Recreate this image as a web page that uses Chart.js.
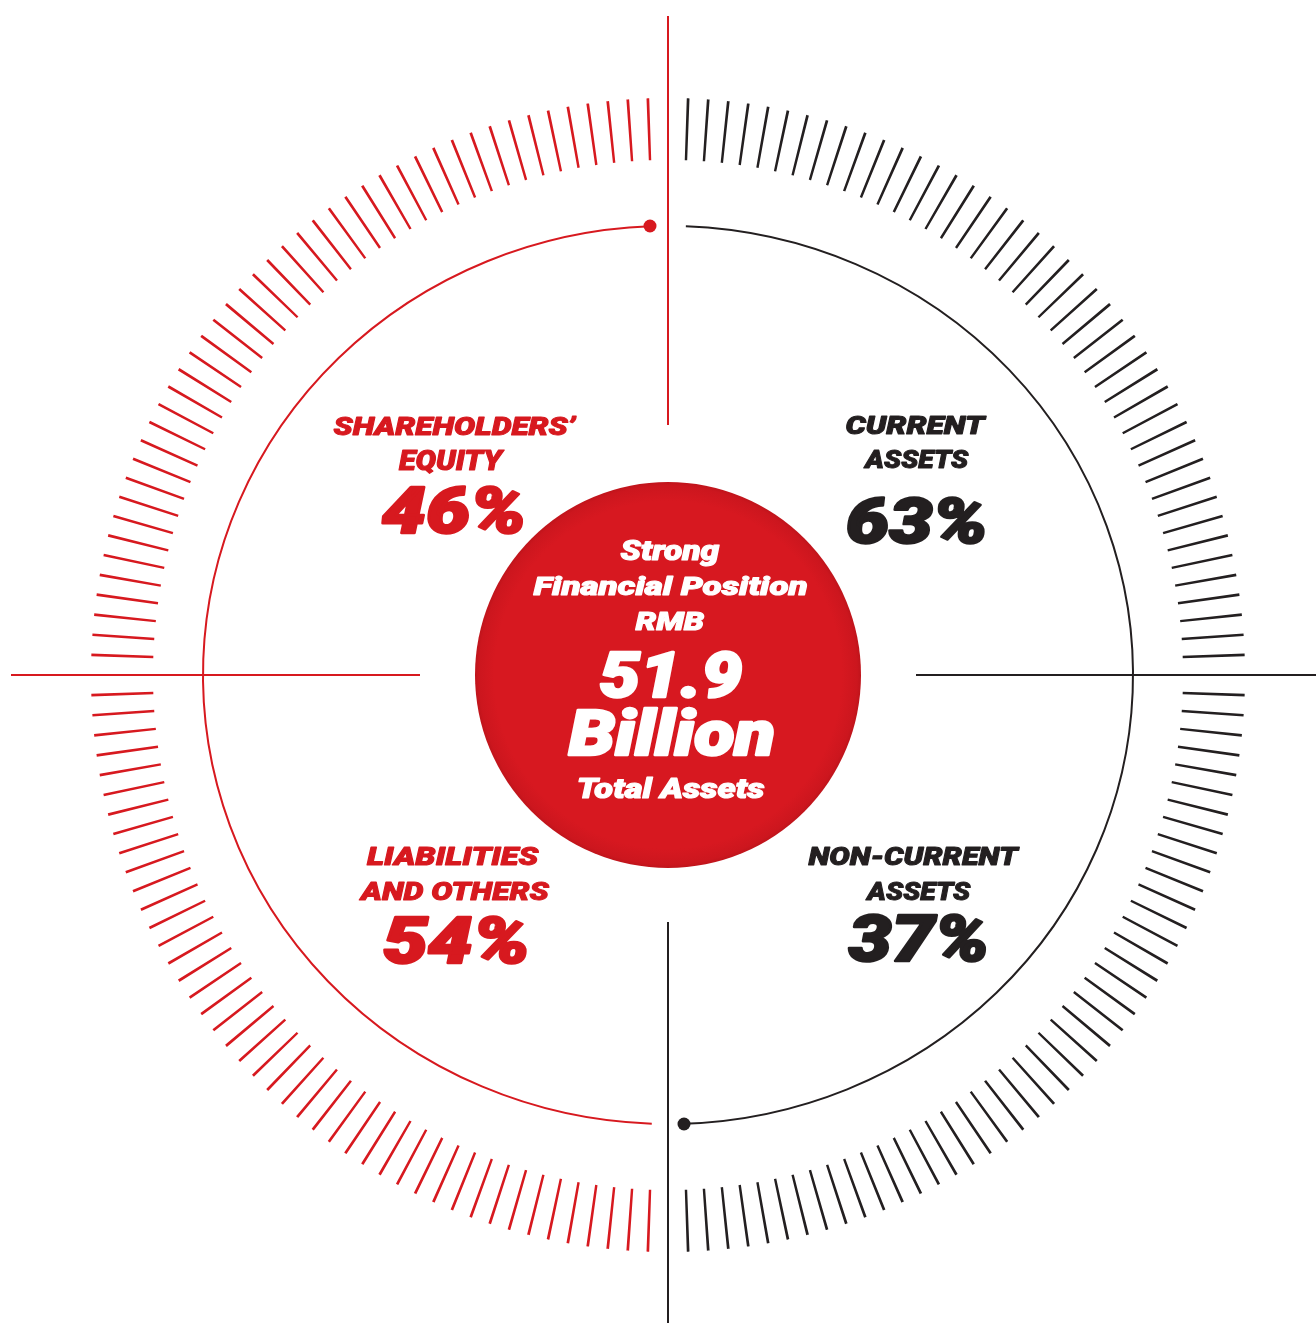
<!DOCTYPE html>
<html>
<head>
<meta charset="utf-8">
<script src="https://cdn.jsdelivr.net/npm/chart.js@4"></script>
<style>
  html,body{margin:0;padding:0;background:#ffffff;}
  #wrap{width:1316px;height:1323px;position:relative;}
  canvas{display:block;}
</style>
</head>
<body>
<div id="wrap"><canvas id="c" width="1316" height="1323"></canvas></div>
<script>
// ---------------- DATA ----------------
const assetLabels   = [["CURRENT", "ASSETS"], ["NON-CURRENT", "ASSETS"]];
const assetShares   = [63, 37];
const fundingLabels = [["SHAREHOLDERS’", "EQUITY"], ["LIABILITIES", "AND OTHERS"]];
const fundingShares = [46, 54];
const centerHeading = ["Strong", "Financial Position", "RMB"];
const totalValue    = "51.9";
const totalUnit     = "Billion";
const totalCaption  = "Total Assets";
// dial scale: one tick every 2 degrees, none on the four cross-hair axes
const tickStepDeg   = 2;
const tickWidthDeg  = 0.27;

// ---------------- STYLE ----------------
const RED = "#d7191f";
const BLACK = "#231f20";
const FONT = "Roboto";

// build the dial ring (tick / gap pairs) for the doughnut
const dialValues = [];
const dialColors = [];
for (let a = 0; a < 360; a += tickStepDeg) {
  dialValues.push(tickWidthDeg, tickStepDeg - tickWidthDeg);
  let col = "rgba(0,0,0,0)";
  if (a % 90 !== 0) col = a < 180 ? BLACK : RED;
  dialColors.push(col, "rgba(0,0,0,0)");
}

function drawText(ctx, text, cx, midY, cap, targetW, color) {
  const fs = cap / 0.711;
  const lw = cap * 0.055;
  ctx.save();
  ctx.font = "italic 900 " + fs + "px " + FONT;
  ctx.fillStyle = color;
  ctx.strokeStyle = color;
  ctx.lineJoin = "round";
  ctx.textAlign = "left";
  ctx.textBaseline = "alphabetic";
  const m = ctx.measureText(text);
  const ink = m.actualBoundingBoxLeft + m.actualBoundingBoxRight;
  const sx = (targetW - lw) / ink;
  ctx.translate(cx, midY + cap / 2 - lw / 2 * 0);
  ctx.scale(sx, 1);
  ctx.lineWidth = lw;
  const x0 = (m.actualBoundingBoxLeft - m.actualBoundingBoxRight) / 2;
  ctx.fillText(text, x0, 0);
  ctx.strokeText(text, x0, 0);
  ctx.restore();
}

const decor = {
  id: "decor",
  beforeDatasetsDraw(chart) {
    const ctx = chart.ctx;
    const meta = chart.getDatasetMeta(0);
    const cx = meta.data[0].x, cy = meta.data[0].y;
    ctx.save();
    ctx.lineCap = "butt";
    // cross-hair lines
    ctx.lineWidth = 2;
    ctx.strokeStyle = RED;
    ctx.beginPath(); ctx.moveTo(cx, 16); ctx.lineTo(cx, 425); ctx.stroke();
    ctx.beginPath(); ctx.moveTo(11, cy); ctx.lineTo(420, cy); ctx.stroke();
    ctx.strokeStyle = BLACK;
    ctx.beginPath(); ctx.moveTo(cx, 922); ctx.lineTo(cx, 1323); ctx.stroke();
    ctx.beginPath(); ctx.moveTo(916, cy); ctx.lineTo(1316, cy); ctx.stroke();
    // thin elliptical ring
    const ra = 465, rb = 449;
    const d2r = Math.PI / 180;
    ctx.lineWidth = 2;
    ctx.strokeStyle = BLACK;
    ctx.beginPath(); ctx.ellipse(cx, cy, ra, rb, 0, (2.2 - 90) * d2r, (178 - 90) * d2r); ctx.stroke();
    ctx.strokeStyle = RED;
    ctx.beginPath(); ctx.ellipse(cx, cy, ra, rb, 0, (182 - 90) * d2r, (357.8 - 90) * d2r); ctx.stroke();
    // end dots
    ctx.fillStyle = RED;
    ctx.beginPath(); ctx.arc(650, cy - rb, 6.5, 0, Math.PI * 2); ctx.fill();
    ctx.fillStyle = BLACK;
    ctx.beginPath(); ctx.arc(684, cy + rb, 6.5, 0, Math.PI * 2); ctx.fill();
    // centre disc
    const R = 193;
    const g = ctx.createRadialGradient(cx, cy, 0, cx, cy, R);
    g.addColorStop(0, "#d71820");
    g.addColorStop(0.9, "#d71820");
    g.addColorStop(0.98, "#cc161e");
    g.addColorStop(1, "#bf141b");
    ctx.fillStyle = g;
    ctx.beginPath(); ctx.arc(cx, cy, R, 0, Math.PI * 2); ctx.fill();
    ctx.restore();

    // labels
    drawText(ctx, fundingLabels[0][0], 455, 426, 18, 244, RED);
    drawText(ctx, fundingLabels[0][1], 452, 460, 19, 107, RED);
    drawText(ctx, fundingShares[0] + "%", 452, 510, 46, 143, RED);

    drawText(ctx, assetLabels[0][0], 916, 425, 18, 142, BLACK);
    drawText(ctx, assetLabels[0][1], 916, 459, 18, 107, BLACK);
    drawText(ctx, assetShares[0] + "%", 916, 520, 45, 138, BLACK);

    drawText(ctx, fundingLabels[1][0], 453, 856, 18, 173, RED);
    drawText(ctx, fundingLabels[1][1], 454, 891, 18, 192, RED);
    drawText(ctx, fundingShares[1] + "%", 455, 940, 46, 144, RED);

    drawText(ctx, assetLabels[1][0], 914, 856, 18, 212, BLACK);
    drawText(ctx, assetLabels[1][1], 918, 891, 18, 107, BLACK);
    drawText(ctx, assetShares[1] + "%", 917, 938, 46, 139, BLACK);

    // centre text
    const W = "#ffffff";
    drawText(ctx, centerHeading[0], 670, 550, 19, 100, W);
    drawText(ctx, centerHeading[1], 670, 586, 18, 274, W);
    drawText(ctx, centerHeading[2], 670, 621, 18, 70, W);
    drawText(ctx, totalValue, 671, 675, 44, 143, W);
    drawText(ctx, totalUnit, 671, 732, 45, 207, W);
    drawText(ctx, totalCaption, 671, 788, 19, 187, W);
  }
};

new Chart(document.getElementById("c"), {
  type: "doughnut",
  data: {
    labels: dialValues.map((_, i) => "d" + i),
    datasets: [{
      data: dialValues,
      backgroundColor: dialColors,
      borderWidth: 0,
      hoverOffset: 0
    }]
  },
  options: {
    responsive: false,
    animation: false,
    events: [],
    radius: 577,
    cutout: (515 / 577 * 100) + "%",
    rotation: -tickWidthDeg / 2,
    layout: { padding: { left: 20, right: 0, top: 27, bottom: 0 } },
    plugins: { legend: { display: false }, tooltip: { enabled: false } }
  },
  plugins: [decor]
});
</script>
</body>
</html>
